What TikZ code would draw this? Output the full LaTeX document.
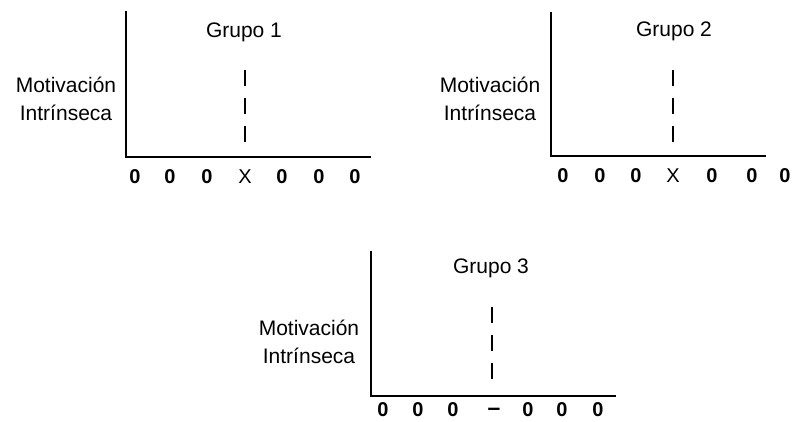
\documentclass[tikz,border=0pt]{standalone}
\usepackage{fontspec}
\setmainfont{Liberation Sans}
\usepackage{tikz}
\usetikzlibrary{positioning,calc}

\tikzset{
  axis/.style={line width=2.4pt,line cap=rect},
  marker/.style={line width=2.4pt,dash pattern=on 16pt off 12pt},
  ylab/.style={align=center,font=\fontsize{21}{28.5}\selectfont,inner sep=0pt},
  title/.style={font=\fontsize{21}{25}\selectfont,inner sep=0pt},
  tick/.style={font=\fontsize{20}{22}\selectfont\bfseries,inner sep=0pt,anchor=base}
}

\begin{document}
\begin{tikzpicture}[x=1pt,y=-1pt]
  \useasboundingbox (0,0) rectangle (792,421);
  % Grupo 1
  \coordinate (top1) at (126,12);
  \coordinate (org1) at (126,157);
  \coordinate (end1) at (370,157);
  \draw[axis] (top1)--(org1)--(end1);
  \node[title] (grp1) at (244,32) {Grupo 1};
  \node[ylab] (mot1) at (66,99) {Motivación\\Intrínseca};
  \coordinate (dA1) at (245,70);
  \coordinate (dB1) at (245,143);
  \draw[marker] (dA1)--(dB1);
  \node[tick] (t11) at (135,183) {0};
  \node[tick] (t12) at (170,183) {0};
  \node[tick] (t13) at (207,183) {0};
  \node[tick,font=\fontsize{20}{22}\selectfont] (t14) at (245,183) {X};
  \node[tick] (t15) at (282,183) {0};
  \node[tick] (t16) at (319,183) {0};
  \node[tick] (t17) at (355,183) {0};
  % Grupo 2
  \coordinate (top2) at (551,13);
  \coordinate (org2) at (551,156);
  \coordinate (end2) at (765,156);
  \draw[axis] (top2)--(org2)--(end2);
  \node[title] (grp2) at (674,31) {Grupo 2};
  \node[ylab] (mot2) at (490,99) {Motivación\\Intrínseca};
  \coordinate (dA2) at (673,70);
  \coordinate (dB2) at (673,143);
  \draw[marker,line width=1.8pt] (dA2)--(dB2);
  \node[tick] (t21) at (563,182) {0};
  \node[tick] (t22) at (600,182) {0};
  \node[tick] (t23) at (636,182) {0};
  \node[tick,font=\fontsize{20}{22}\selectfont] (t24) at (673,182) {X};
  \node[tick] (t25) at (712,182) {0};
  \node[tick] (t26) at (752,182) {0};
  \node[tick] (t27) at (785,182) {0};
  % Grupo 3
  \coordinate (top3) at (371,252);
  \coordinate (org3) at (371,396);
  \coordinate (end3) at (615,396);
  \draw[axis] (top3)--(org3)--(end3);
  \node[title] (grp3) at (491,268) {Grupo 3};
  \node[ylab] (mot3) at (309,342) {Motivación\\Intrínseca};
  \coordinate (dA3) at (492,307);
  \coordinate (dB3) at (492,382);
  \draw[marker] (dA3)--(dB3);
  \node[tick] (t31) at (383,416) {0};
  \node[tick] (t32) at (418,416) {0};
  \node[tick] (t33) at (453,416) {0};
  \node[tick,font=\fontsize{23}{25}\selectfont\bfseries] (t34) at (494,415) {--};
  \node[tick] (t35) at (528,416) {0};
  \node[tick] (t36) at (562,416) {0};
  \node[tick] (t37) at (598,416) {0};
\end{tikzpicture}
\end{document}
